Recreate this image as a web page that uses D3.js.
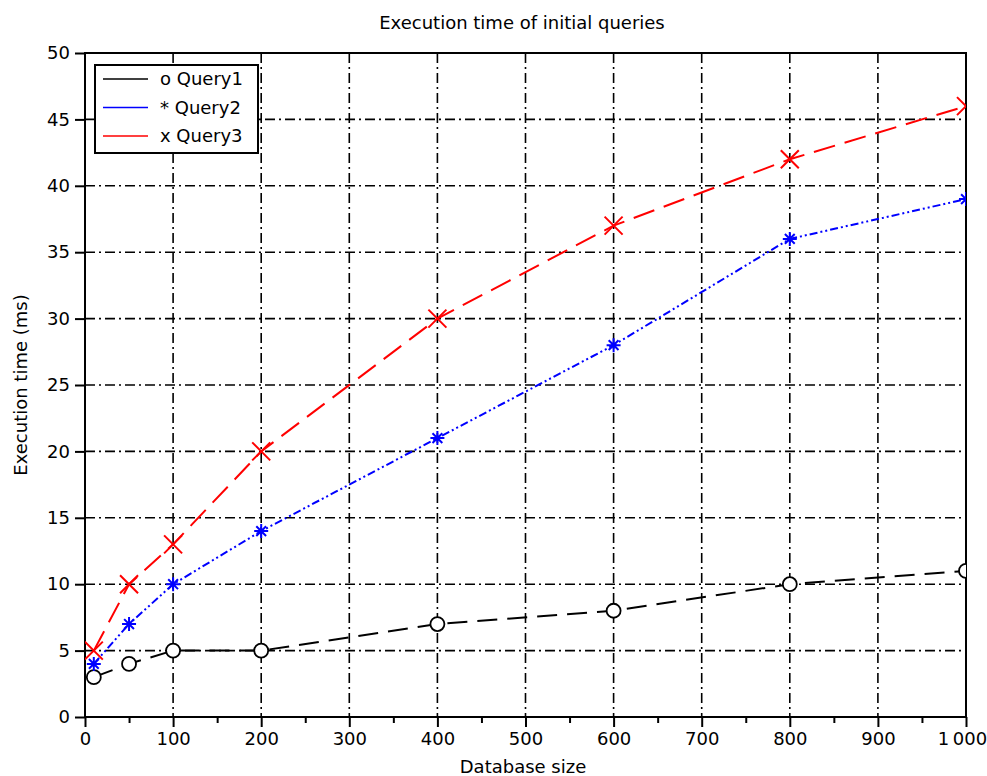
<!DOCTYPE html>
<html>
<head>
    <title></title>
    <meta charset="utf-8">
    <style>
        body { margin: 0; background: #fff; }
        text { font-family: "DejaVu Sans", sans-serif; fill: #000; }
    </style>
</head>
<body>
<script src="https://d3js.org/d3.v7.min.js"></script>
<script>
    // data
    var sizes = [10, 50, 100, 200, 400, 600, 800, 1000];
    var query1 = [3, 4, 5, 5, 7, 8, 10, 11];
    var query2 = [4, 7, 10, 14, 21, 28, 36, 39];
    var query3 = [5, 10, 13, 20, 30, 37, 42, 46];
    var seriesNames = ['o Query1', '* Query2', 'x Query3'];
    var xTicks = [0, 100, 200, 300, 400, 500, 600, 700, 800, 900, 1000];
    var yTicks = [0, 5, 10, 15, 20, 25, 30, 35, 40, 45, 50];

    var W = 987, H = 776;
    var pL = 85, pR = 966, pT = 53, pB = 717;

    var svg = d3.select('body').append('svg')
        .attr('width', W)
        .attr('height', H);

    var x = d3.scaleLinear().domain([0, 1000]).range([pL, pR]);
    var y = d3.scaleLinear().domain([0, 50]).range([pB, pT]);

    svg.append('clipPath').attr('id', 'plot')
        .append('rect')
        .attr('x', pL).attr('y', pT)
        .attr('width', pR - pL).attr('height', pB - pT);

    // grid, dash-dot
    var grid = svg.append('g')
        .attr('stroke', '#000')
        .attr('stroke-width', 1.6)
        .attr('stroke-dasharray', '10,4,2,4');
    grid.selectAll('line.v').data(xTicks.slice(1, -1)).enter().append('line')
        .attr('x1', d => x(d)).attr('x2', d => x(d))
        .attr('y1', pT).attr('y2', pB);
    grid.selectAll('line.h').data(yTicks.slice(1, -1)).enter().append('line')
        .attr('x1', pL).attr('x2', pR)
        .attr('y1', d => y(d)).attr('y2', d => y(d));

    // axes
    var fmt = function (d) { return d === 1000 ? '1\u2009000' : d; };
    var xAxis = svg.append('g')
        .attr('transform', 'translate(0,' + pB + ')')
        .call(d3.axisBottom(x).tickValues(xTicks).tickFormat(fmt).tickSize(10).tickPadding(5));
    svg.append('g')
        .attr('transform', 'translate(0,' + pB + ')')
        .call(d3.axisBottom(x).tickValues(d3.range(50, 1000, 100)).tickFormat('').tickSize(6));
    svg.append('g')
        .attr('transform', 'translate(' + pL + ',0)')
        .call(d3.axisLeft(y).tickValues(yTicks).tickSize(10).tickPadding(5));
    svg.selectAll('.domain').remove();
    svg.selectAll('.tick line').attr('stroke', '#000').attr('stroke-width', 2);
    svg.selectAll('.tick text')
        .style('font-family', '"DejaVu Sans", sans-serif')
        .style('font-size', '18px')
        .attr('fill', '#000');
    // keep "1 000" inside the picture
    xAxis.selectAll('.tick text').filter(d => d === 1000).attr('dx', '-4');

    // frame
    svg.append('rect')
        .attr('x', pL).attr('y', pT)
        .attr('width', pR - pL).attr('height', pB - pT)
        .attr('fill', 'none')
        .attr('stroke', '#000')
        .attr('stroke-width', 2);

    // series
    var series = [
        { vals: query1, color: '#000', dash: '20,10', mark: 'o' },
        { vals: query2, color: '#0000ff', dash: '8,3,2,3,2,3', mark: '*' },
        { vals: query3, color: '#ff0000', dash: '22,10', mark: 'x' }
    ];
    var plot = svg.append('g').attr('clip-path', 'url(#plot)');
    var line = d3.line().x((d, i) => x(sizes[i])).y(d => y(d));

    series.forEach(function (s) {
        plot.append('path')
            .datum(s.vals)
            .attr('d', line)
            .attr('fill', 'none')
            .attr('stroke', s.color)
            .attr('stroke-width', 2)
            .attr('stroke-dasharray', s.dash);

        var pts = plot.append('g').selectAll('g').data(s.vals).enter().append('g')
            .attr('transform', (d, i) => 'translate(' + x(sizes[i]) + ',' + y(d) + ')');
        if (s.mark === 'o') {
            pts.append('circle').attr('r', 7)
                .attr('fill', '#fff').attr('stroke', '#000').attr('stroke-width', 1.8);
        } else if (s.mark === '*') {
            var r = 7;
            pts.append('path')
                .attr('d', 'M' + (-r) + ',0L' + r + ',0M0,' + (-r) + 'L0,' + r +
                    'M' + (-r * 0.7) + ',' + (-r * 0.7) + 'L' + (r * 0.7) + ',' + (r * 0.7) +
                    'M' + (-r * 0.7) + ',' + (r * 0.7) + 'L' + (r * 0.7) + ',' + (-r * 0.7))
                .attr('stroke', s.color).attr('stroke-width', 2);
        } else {
            var q = 9;
            pts.append('path')
                .attr('d', 'M' + (-q) + ',' + (-q) + 'L' + q + ',' + q + 'M' + (-q) + ',' + q + 'L' + q + ',' + (-q))
                .attr('stroke', s.color).attr('stroke-width', 2);
        }
    });

    // legend
    var lg = svg.append('g');
    lg.append('rect')
        .attr('x', 95).attr('y', 65)
        .attr('width', 163).attr('height', 88)
        .attr('fill', '#fff')
        .attr('stroke', '#000')
        .attr('stroke-width', 2);
    seriesNames.forEach(function (name, i) {
        var yy = 79 + i * 28.5;
        lg.append('line')
            .attr('x1', 103).attr('x2', 148)
            .attr('y1', yy).attr('y2', yy)
            .attr('stroke', series[i].color)
            .attr('stroke-width', 1.5);
        lg.append('text')
            .attr('x', 160).attr('y', yy + 6)
            .style('font-size', '18px')
            .text(name);
    });

    // titles
    svg.append('text')
        .attr('x', 522).attr('y', 29)
        .attr('text-anchor', 'middle')
        .style('font-size', '18px')
        .text('Execution time of initial queries');
    svg.append('text')
        .attr('x', 523).attr('y', 773)
        .attr('text-anchor', 'middle')
        .style('font-size', '18px')
        .text('Database size');
    svg.append('text')
        .attr('transform', 'translate(27,385) rotate(-90)')
        .attr('text-anchor', 'middle')
        .style('font-size', '18px')
        .text('Execution time (ms)');
</script>
</body>
</html>
